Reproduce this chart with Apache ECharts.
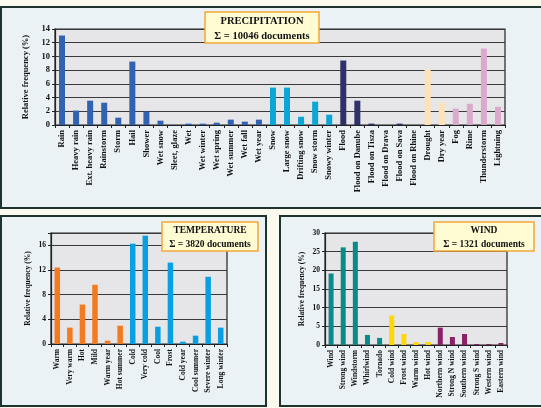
<!DOCTYPE html>
<html>
<head>
<meta charset="utf-8">
<script src="https://cdn.jsdelivr.net/npm/echarts@6/dist/echarts.min.js"></script>
<style>
  html, body { margin: 0; padding: 0; background: #fcf9ee; }
  #chart { width: 541px; height: 408px; }
</style>
</head>
<body>
<div id="chart"></div>
<script>
// precipitation
const precipCats = ['Rain', 'Heavy rain', 'Ext. heavy rain', 'Rainstorm', 'Storm', 'Hail', 'Shower',
  'Wet snow', 'Sleet, glaze', 'Wet', 'Wet winter', 'Wet spring', 'Wet summer', 'Wet fall', 'Wet year',
  'Snow', 'Large snow', 'Drifting snow', 'Snow storm', 'Snowy winter',
  'Flood', 'Flood on Danube', 'Flood on Tisza', 'Flood on Drava', 'Flood on Sava', 'Flood on Rhine',
  'Drought', 'Dry year', 'Fog', 'Rime', 'Thunderstorm', 'Lightning'];
const precipVals = [13.05, 2.1, 3.55, 3.25, 1.07, 9.25, 1.95, 0.63, 0, 0.2, 0.2, 0.34, 0.78, 0.49, 0.78,
  5.45, 5.45, 1.2, 3.4, 1.5,
  9.4, 3.55, 0.2, 0, 0.2, 0,
  8.15, 3.25, 2.4, 3.1, 11.15, 2.65];
const precipGroups = [15, 5, 6, 2, 4];

// temperature
const tempCats = ['Warm', 'Very warm', 'Hot', 'Mild', 'Warm year', 'Hot summer',
  'Cold', 'Very cold', 'Cool', 'Frost', 'Cold year', 'Cool summer', 'Severe winter', 'Long winter'];
const tempVals = [12.4, 2.65, 6.4, 9.6, 0.54, 2.97, 16.27, 17.57, 2.8, 13.2, 0.38, 1.35, 10.9, 2.65];
const tempGroups = [6, 8];

// wind
const windCats = ['Wind', 'Strong wind', 'Windstorm', 'Whirlwind', 'Tornado',
  'Cold wind', 'Frost wind', 'Warm wind', 'Hot wind',
  'Northern wind', 'Strong N wind', 'Southern wind', 'Strong S wind', 'Western wind', 'Eastern wind'];
const windVals = [19.15, 26.15, 27.65, 2.7, 1.9, 7.9, 2.95, 0.8, 0.8, 4.65, 2.15, 2.95, 0.27, 0.27, 0.54];
const windGroups = [5, 4, 6];

const font = '"Liberation Serif", "Times New Roman", serif';

// colour per bar from group sizes
function groupColor(groups, colors) {
  return function (p) {
    let acc = 0;
    for (let g = 0; g < groups.length; g++) {
      acc += groups[g];
      if (p.dataIndex < acc) return colors[g];
    }
    return colors[colors.length - 1];
  };
}

function xAx(idx, cats, size) {
  return {
    type: 'category', gridIndex: idx, data: cats,
    axisLine: { lineStyle: { color: '#222', width: 1.2 } },
    axisTick: { show: true, length: 3, lineStyle: { color: '#222' } },
    axisLabel: { rotate: 90, interval: 0, margin: 5, color: '#111', fontFamily: font,
      fontWeight: 'bold', fontSize: size }
  };
}

function yAx(idx, max, step, size, gap) {
  return {
    type: 'value', gridIndex: idx, min: 0, max: max, interval: step,
    name: 'Relative frequency (%)', nameLocation: 'middle', nameGap: gap,
    nameTextStyle: { color: '#111', fontFamily: font, fontWeight: 'bold', fontSize: size },
    axisLine: { show: true, lineStyle: { color: '#222', width: 1.2 } },
    axisTick: { show: true, length: 3, lineStyle: { color: '#222' } },
    axisLabel: { color: '#111', fontFamily: font, fontWeight: 'bold', fontSize: size, margin: 5,
      formatter: v => (v % step === 0 ? String(v) : '') },
    splitLine: { lineStyle: { color: '#3a3a3a', width: 1 } }
  };
}

// legend-like title box drawn above the plot
function titleBox(x, y, w, h, line1, line2, size) {
  return [
    { type: 'rect', zlevel: 1, z: 100, shape: { x: x, y: y, width: w, height: h },
      style: { fill: '#fffbd2', stroke: '#f5a838', lineWidth: 1.5 } },
    { type: 'text', zlevel: 1, z: 101, style: { x: x + w / 2, y: y + h * 0.3, text: line1, align: 'center',
      verticalAlign: 'middle', font: 'bold ' + size + 'px ' + font, fill: '#111' } },
    { type: 'text', zlevel: 1, z: 101, style: { x: x + w / 2, y: y + h * 0.78, text: line2, align: 'center',
      verticalAlign: 'middle', font: 'bold ' + size + 'px ' + font, fill: '#111' } }
  ];
}

const chart = echarts.init(document.getElementById('chart'));
chart.setOption({
  backgroundColor: '#fcf9ee',
  animation: false,
  graphic: [
    { type: 'rect', z: -10, shape: { x: 1, y: 7, width: 548, height: 201 },
      style: { fill: '#eaf2f5', stroke: '#1e332e', lineWidth: 2 } },
    { type: 'rect', z: -10, shape: { x: 1, y: 216, width: 265, height: 190 },
      style: { fill: '#eaf2f5', stroke: '#1e332e', lineWidth: 2 } },
    { type: 'rect', z: -10, shape: { x: 280, y: 216, width: 270, height: 190 },
      style: { fill: '#eaf2f5', stroke: '#1e332e', lineWidth: 2 } }
  ].concat(
    titleBox(205, 12, 114, 31, 'PRECIPITATION', '\u03a3 = 10046 documents', 10.5),
    titleBox(162, 222, 96, 29, 'TEMPERATURE', '\u03a3 = 3820 documents', 9.5),
    titleBox(434, 222, 100, 29, 'WIND', '\u03a3 = 1321 documents', 9.5)
  ),
  grid: [
    { left: 55, top: 29, width: 450, height: 96, show: true, backgroundColor: '#e6e6e8',
      borderColor: '#222', borderWidth: 1.2 },
    { left: 51, top: 233, width: 176, height: 111, show: true, backgroundColor: '#e6e6e8',
      borderColor: '#222', borderWidth: 1.2 },
    { left: 325, top: 233, width: 182, height: 112, show: true, backgroundColor: '#e6e6e8',
      borderColor: '#222', borderWidth: 1.2 }
  ],
  xAxis: [xAx(0, precipCats, 8.5), xAx(1, tempCats, 7.5), xAx(2, windCats, 7.5)],
  yAxis: [yAx(0, 14, 2, 8.5, 20), yAx(1, 18, 4, 7.5, 19), yAx(2, 30, 5, 7.5, 19)],
  series: [
    { type: 'bar', xAxisIndex: 0, yAxisIndex: 0, data: precipVals, barWidth: 6,
      itemStyle: { color: groupColor(precipGroups, ['#3163b0', '#0aa6d6', '#30306a', '#ffe2b8', '#dba9cc']) } },
    { type: 'bar', xAxisIndex: 1, yAxisIndex: 1, data: tempVals, barWidth: 5.5,
      itemStyle: { color: groupColor(tempGroups, ['#f47a20', '#0a9fe0']) } },
    { type: 'bar', xAxisIndex: 2, yAxisIndex: 2, data: windVals, barWidth: 5,
      itemStyle: { color: groupColor(windGroups, ['#0a8a88', '#ffd800', '#8a2366']) } }
  ]
});
</script>
</body>
</html>
